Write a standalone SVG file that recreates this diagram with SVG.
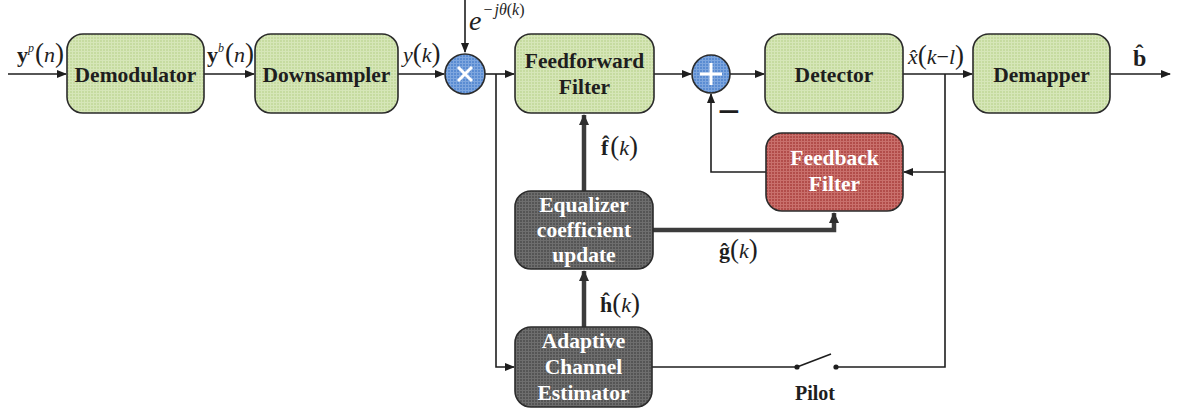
<svg xmlns="http://www.w3.org/2000/svg" width="1180" height="411" viewBox="0 0 1180 411">
  <style>
    .box { stroke: #2b2b2b; stroke-width: 1.6; }
    .lbl { font-family: 'Liberation Serif', 'DejaVu Serif', serif; font-weight: bold; font-size: 21.5px; text-anchor: middle; }
    .dark { fill: #1e1e1e; }
    .light { fill: #ffffff; }
    .math { font-family: 'Liberation Serif', 'DejaVu Serif', serif; fill: #1e1e1e; font-size: 22px; }
    .it { font-style: italic; }
    .bd { font-weight: bold; }
    .par { font-size: 27px; }
    .wire { fill: none; stroke: #1e1e1e; stroke-width: 1.6; }
    .bus { fill: none; stroke: #3c3c3c; stroke-width: 4.5; }
  </style>
  <defs>
    <pattern id="gridGreen" width="3" height="3" patternUnits="userSpaceOnUse">
      <rect width="3" height="3" fill="#c6dba0"/>
      <path d="M0 0.5H3M0.5 0V3" stroke="#d6e6b8" stroke-width="1"/>
    </pattern>
    <pattern id="gridRed" width="3" height="3" patternUnits="userSpaceOnUse">
      <rect width="3" height="3" fill="#b24d4a"/>
      <path d="M0 0.5H3M0.5 0V3" stroke="#c9706c" stroke-width="1"/>
    </pattern>
    <pattern id="gridGray" width="3" height="3" patternUnits="userSpaceOnUse">
      <rect width="3" height="3" fill="#555555"/>
      <path d="M0 0.5H3M0.5 0V3" stroke="#6e6e6e" stroke-width="1"/>
    </pattern>
    <pattern id="gridBlue" width="3" height="3" patternUnits="userSpaceOnUse">
      <rect width="3" height="3" fill="#5a8cd2"/>
      <path d="M0 0.5H3M0.5 0V3" stroke="#7ea6de" stroke-width="1"/>
    </pattern>
    <marker id="arr" markerWidth="10" markerHeight="8" refX="9" refY="4" orient="auto" markerUnits="userSpaceOnUse">
      <path d="M0 0L10 4L0 8Z" fill="#1e1e1e"/>
    </marker>
    <marker id="arrBus" markerWidth="11" markerHeight="10" refX="10" refY="5" orient="auto" markerUnits="userSpaceOnUse">
      <path d="M0 0L11 5L0 10Z" fill="#2e2e2e"/>
    </marker>
  </defs>

  <!-- connectors -->
  <g id="connectors">
    <path class="wire" d="M8 74H66" marker-end="url(#arr)"/>
    <path class="wire" d="M204 74H254" marker-end="url(#arr)"/>
    <path class="wire" d="M398 74H444" marker-end="url(#arr)"/>
    <path class="wire" d="M465 0V52" marker-end="url(#arr)"/>
    <path class="wire" d="M485 74H514" marker-end="url(#arr)"/>
    <path class="wire" d="M654 74H691" marker-end="url(#arr)"/>
    <path class="wire" d="M730 74H764" marker-end="url(#arr)"/>
    <path class="wire" d="M903 74H972" marker-end="url(#arr)"/>
    <path class="wire" d="M1110 74H1170" marker-end="url(#arr)"/>
    <!-- branch to the channel estimator -->
    <path class="wire" d="M496 74V367H514" marker-end="url(#arr)"/>
    <!-- decision feedback path -->
    <path class="wire" d="M945 74V367H836"/>
    <path class="wire" d="M945 172H904" marker-end="url(#arr)"/>
    <path class="wire" d="M766 172H711V94" marker-end="url(#arr)"/>
    <!-- estimator output through the pilot switch -->
    <path class="wire" d="M652 367H797"/>
    <path class="wire" d="M797 367L831 354"/>
    <circle cx="797" cy="367" r="2.6" fill="#1e1e1e"/>
    <circle cx="836" cy="367" r="2.6" fill="#1e1e1e"/>
    <!-- coefficient buses -->
    <path class="bus" d="M584 327V271" marker-end="url(#arrBus)"/>
    <path class="bus" d="M584 191V115" marker-end="url(#arrBus)"/>
    <path class="bus" d="M653 230H834V213" marker-end="url(#arrBus)"/>
  </g>

  <g id="demodulator">
    <rect class="box" x="67" y="34" width="137" height="79" rx="16" fill="url(#gridGreen)"/>
    <text class="lbl dark" x="135.5" y="82">Demodulator</text>
  </g>
  <g id="downsampler">
    <rect class="box" x="255" y="34" width="143" height="79" rx="16" fill="url(#gridGreen)"/>
    <text class="lbl dark" x="326.5" y="82">Downsampler</text>
  </g>
  <g id="multiplier">
    <circle class="box" cx="465" cy="74" r="20" fill="url(#gridBlue)"/>
    <path d="M458 67L472 81M472 67L458 81" stroke="#ffffff" stroke-width="3"/>
  </g>
  <g id="feedforward-filter">
    <rect class="box" x="515" y="34" width="139" height="79" rx="16" fill="url(#gridGreen)"/>
    <text class="lbl dark" x="584.5" y="68">Feedforward</text>
    <text class="lbl dark" x="584.5" y="94">Filter</text>
  </g>
  <g id="summer">
    <circle class="box" cx="711" cy="74" r="19" fill="url(#gridBlue)"/>
    <path d="M700 74H722M711 63V85" stroke="#ffffff" stroke-width="3"/>
  </g>
  <g id="detector">
    <rect class="box" x="765" y="34" width="138" height="79" rx="16" fill="url(#gridGreen)"/>
    <text class="lbl dark" x="834" y="82">Detector</text>
  </g>
  <g id="demapper">
    <rect class="box" x="973" y="34" width="137" height="79" rx="16" fill="url(#gridGreen)"/>
    <text class="lbl dark" x="1041.5" y="82">Demapper</text>
  </g>
  <g id="feedback-filter">
    <rect class="box" x="766" y="133" width="137" height="78" rx="16" fill="url(#gridRed)"/>
    <text class="lbl light" x="834.5" y="165">Feedback</text>
    <text class="lbl light" x="834.5" y="191">Filter</text>
  </g>
  <g id="equalizer-update">
    <rect class="box" x="515" y="191" width="138" height="78" rx="16" fill="url(#gridGray)"/>
    <text class="lbl light" x="584" y="212">Equalizer</text>
    <text class="lbl light" x="584" y="237">coefficient</text>
    <text class="lbl light" x="584" y="262">update</text>
  </g>
  <g id="channel-estimator">
    <rect class="box" x="515" y="327" width="137" height="80" rx="16" fill="url(#gridGray)"/>
    <text class="lbl light" x="583.5" y="348">Adaptive</text>
    <text class="lbl light" x="583.5" y="374">Channel</text>
    <text class="lbl light" x="583.5" y="400">Estimator</text>
  </g>

  <!-- signal labels -->
  <g id="labels">
    <text class="math" x="17" y="62"><tspan class="bd">y</tspan><tspan class="it" font-size="12" dy="-10">p</tspan><tspan class="par" dy="10" dx="1">(</tspan><tspan class="it">n</tspan><tspan class="par">)</tspan></text>
    <text class="math" x="207" y="62"><tspan class="bd">y</tspan><tspan class="it" font-size="12" dy="-10">b</tspan><tspan class="par" dy="10" dx="1">(</tspan><tspan class="it">n</tspan><tspan class="par">)</tspan></text>
    <text class="math" x="403" y="62"><tspan class="it">y</tspan><tspan class="par">(</tspan><tspan class="it">k</tspan><tspan class="par">)</tspan></text>
    <text class="math" x="469" y="30"><tspan class="it" font-size="28">e</tspan><tspan font-size="16" dy="-15" dx="2">−</tspan><tspan class="it" font-size="16" dx="2">jθ</tspan><tspan font-size="16">(</tspan><tspan class="it" font-size="16">k</tspan><tspan font-size="16">)</tspan></text>
    <text class="math" x="908" y="64"><tspan class="it">x̂</tspan><tspan class="par">(</tspan><tspan class="it">k</tspan><tspan>−</tspan><tspan class="it">l</tspan><tspan class="par">)</tspan></text>
    <text class="math bd" x="1133" y="66" style="font-size:24px">b̂</text>
    <text class="math" x="601" y="155"><tspan class="bd">f̂</tspan><tspan class="par" dx="2">(</tspan><tspan class="it">k</tspan><tspan class="par">)</tspan></text>
    <text class="math" x="719" y="258"><tspan class="bd">ĝ</tspan><tspan class="par">(</tspan><tspan class="it">k</tspan><tspan class="par">)</tspan></text>
    <text class="math" x="600" y="312"><tspan class="bd">ĥ</tspan><tspan class="par">(</tspan><tspan class="it">k</tspan><tspan class="par">)</tspan></text>
    <text class="math bd" x="729" y="125" style="font-size:40px" text-anchor="middle">−</text>
    <text class="lbl dark" x="815" y="400" style="font-size:20px">Pilot</text>
  </g>
</svg>
